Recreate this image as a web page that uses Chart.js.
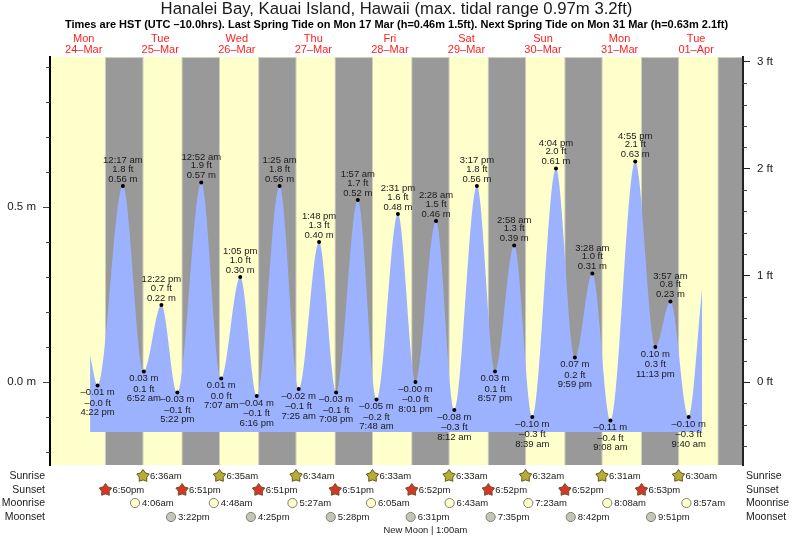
<!DOCTYPE html>
<html>
<head>
<meta charset="utf-8">
<title>Hanalei Bay tide chart</title>
<script src="https://cdn.jsdelivr.net/npm/chart.js@4/dist/chart.umd.min.js"></script>
<style>
  html, body { margin: 0; padding: 0; background: #fff; }
  canvas { display: block; }
</style>
</head>
<body>
<canvas id="tideChart" width="793" height="539"></canvas>
<script>
// DATA

const titleText = 'Hanalei Bay, Kauai Island, Hawaii (max. tidal range 0.97m 3.2ft)';
const subtitleText = 'Times are HST (UTC –10.0hrs). Last Spring Tide on Mon 17 Mar (h=0.46m 1.5ft). Next Spring Tide on Mon 31 Mar (h=0.63m 2.1ft)';

const dayNames = ['Mon','Tue','Wed','Thu','Fri','Sat','Sun','Mon','Tue'];
const dayDates = ['24–Mar','25–Mar','26–Mar','27–Mar','28–Mar','29–Mar','30–Mar','31–Mar','01–Apr'];
const dayNoons = ['24 12:00pm','25 12:00pm','26 12:00pm','27 12:00pm','28 12:00pm','29 12:00pm','30 12:00pm','31 12:00pm','32 12:00pm'];

// high and low waters, in time order (days run on past 31 so 32 = 01-Apr)
const tideTimes = [
  '24 4:22pm','25 12:17am','25 6:52am','25 12:22pm','25 5:22pm',
  '26 12:52am','26 7:07am','26 1:05pm','26 6:16pm',
  '27 1:25am','27 7:25am','27 1:48pm','27 7:08pm',
  '28 1:57am','28 7:48am','28 2:31pm','28 8:01pm',
  '29 2:28am','29 8:12am','29 3:17pm','29 8:57pm',
  '30 2:58am','30 8:39am','30 4:04pm','30 9:59pm',
  '31 3:28am','31 9:08am','31 4:55pm','31 11:13pm',
  '32 3:57am','32 9:40am'
];
const tideMetres = [
  -0.01,0.56,0.03,0.22,-0.03,
  0.57,0.01,0.30,-0.04,
  0.56,-0.02,0.40,-0.03,
  0.52,-0.05,0.48,-0.00,
  0.46,-0.08,0.56,0.03,
  0.39,-0.10,0.61,0.07,
  0.31,-0.11,0.63,0.10,
  0.23,-0.10
];
const tideFeet = [
  -0.0,1.8,0.1,0.7,-0.1,
  1.9,0.0,1.0,-0.1,
  1.8,-0.1,1.3,-0.1,
  1.7,-0.2,1.6,-0.0,
  1.5,-0.3,1.8,0.1,
  1.3,-0.3,2.0,0.2,
  1.0,-0.4,2.1,0.3,
  0.8,-0.3
];

// where the drawn curve starts and stops
const curveStart = { time: '24 2:00pm', metres: 0.075 };
const curveEnd = { time: '32 1:55pm', metres: 0.27 };
const curveFloor = -0.143;

const sunriseTimes = ['25 6:36am','26 6:35am','27 6:34am','28 6:33am','29 6:33am','30 6:32am','31 6:31am','32 6:30am'];
const sunsetTimes = ['24 6:50pm','25 6:51pm','26 6:51pm','27 6:51pm','28 6:52pm','29 6:52pm','30 6:52pm','31 6:53pm'];
const lastSunset = '32 6:53pm';
const moonriseTimes = ['25 4:06am','26 4:48am','27 5:27am','28 6:05am','29 6:43am','30 7:23am','31 8:08am','32 8:57am'];
const moonsetTimes = ['25 3:22pm','26 4:25pm','27 5:28pm','28 6:31pm','29 7:35pm','30 8:42pm','31 9:51pm'];
const newMoonTime = '29 1:00am';

const metreTicks = [0, 0.5];
const metreMinorTicks = [-0.2,-0.1,0.1,0.2,0.3,0.4,0.6,0.7,0.8,0.9];
const footTicks = [0, 1, 2, 3];
const footMinorTicks = [-0.6,-0.4,-0.2,0.2,0.4,0.6,0.8,1.2,1.4,1.6,1.8,2.2,2.4,2.6,2.8];

// HELPERS

function hoursOf(stamp) {
  const m = stamp.match(/^(\d+) (\d+):(\d+)(am|pm)$/);
  const hour = (Number(m[2]) % 12) + (m[4] === 'pm' ? 12 : 0);
  return (Number(m[1]) - 24) * 24 + hour + Number(m[3]) / 60;
}

function clockOf(stamp) {
  return stamp.split(' ')[1];
}

function signed(value, digits) {
  const negative = value < 0 || Object.is(value, -0);
  return (negative ? '–' : '') + Math.abs(value).toFixed(digits);
}

const fontFamily = '"Liberation Sans", Arial, sans-serif';
const yellow = '#ffffcc';
const grey = '#999999';

// PLUGINS

const bandsPlugin = {
  id: 'bands',
  beforeDraw(chart) {
    const { ctx, chartArea, scales } = chart;
    const top = chartArea.top;
    const height = chartArea.bottom - chartArea.top;
    ctx.save();
    ctx.fillStyle = yellow;
    ctx.fillRect(chartArea.left, top, chartArea.right - chartArea.left, height);
    const sunsets = sunsetTimes.concat([lastSunset]);
    sunsets.forEach((stamp, i) => {
      const from = scales.x.getPixelForValue(hoursOf(stamp));
      const to = i < sunriseTimes.length ? scales.x.getPixelForValue(hoursOf(sunriseTimes[i])) : chartArea.right;
      // pale fringe round each night band, as in the original
      ctx.fillStyle = '#cfcfbd';
      ctx.fillRect(from - 0.5, top, to - from + 1, height);
      ctx.fillStyle = grey;
      ctx.fillRect(from + 0.5, top + 1, to - from - 1, height - 1);
    });
    ctx.restore();
  }
};

const tideLabelsPlugin = {
  id: 'tideLabels',
  afterDatasetsDraw(chart) {
    const { ctx, scales } = chart;
    ctx.save();
    ctx.font = '9.5px ' + fontFamily;
    ctx.fillStyle = '#1a1a1a';
    ctx.textAlign = 'center';
    ctx.textBaseline = 'middle';
    tideTimes.forEach((stamp, i) => {
      const x = scales.x.getPixelForValue(hoursOf(stamp));
      const y = scales.y.getPixelForValue(tideMetres[i]);
      const clock = clockOf(stamp).replace(/(am|pm)$/, ' $1');
      const metres = signed(tideMetres[i], 2) + ' m';
      const feet = signed(tideFeet[i], 1) + ' ft';
      if (i % 2 === 1) {
        ctx.fillText(metres, x, y - 7);
        ctx.fillText(feet, x, y - 17);
        ctx.fillText(clock, x, y - 25.5);
      } else {
        ctx.fillText(metres, x, y + 7);
        ctx.fillText(feet, x, y + 17.5);
        ctx.fillText(clock, x, y + 27);
      }
    });
    ctx.restore();
  }
};

function drawStar(ctx, x, y, fill) {
  ctx.beginPath();
  for (let i = 0; i < 10; i++) {
    const r = i % 2 === 0 ? 6.5 : 3.9;
    const a = -Math.PI / 2 + i * Math.PI / 5;
    const px = x + r * Math.cos(a);
    const py = y + r * Math.sin(a);
    if (i === 0) ctx.moveTo(px, py);
    else ctx.lineTo(px, py);
  }
  ctx.closePath();
  ctx.fillStyle = fill;
  ctx.fill();
  ctx.lineWidth = 1;
  ctx.strokeStyle = '#665522';
  ctx.stroke();
}

function drawMoon(ctx, x, y, fill) {
  ctx.beginPath();
  ctx.arc(x, y, 4.6, 0, Math.PI * 2);
  ctx.fillStyle = fill;
  ctx.fill();
  ctx.lineWidth = 1;
  ctx.strokeStyle = '#808075';
  ctx.stroke();
}

const rows = [
  { name: 'Sunrise', y: 476, times: sunriseTimes, draw: drawStar, fill: '#b5ad35' },
  { name: 'Sunset', y: 490, times: sunsetTimes, draw: drawStar, fill: '#d8352a' },
  { name: 'Moonrise', y: 503, times: moonriseTimes, draw: drawMoon, fill: '#ffffcc' },
  { name: 'Moonset', y: 517, times: moonsetTimes, draw: drawMoon, fill: '#c4c4b8' }
];

const almanacPlugin = {
  id: 'almanac',
  afterDraw(chart) {
    const { ctx, scales } = chart;
    ctx.save();
    ctx.textBaseline = 'middle';
    rows.forEach(row => {
      ctx.font = '10.5px ' + fontFamily;
      ctx.fillStyle = '#1a1a1a';
      ctx.textAlign = 'right';
      ctx.fillText(row.name, 45, row.y);
      ctx.textAlign = 'left';
      ctx.fillText(row.name, 746, row.y);
      ctx.font = '9.5px ' + fontFamily;
      row.times.forEach(stamp => {
        const x = scales.x.getPixelForValue(hoursOf(stamp));
        row.draw(ctx, x, row.y, row.fill);
        ctx.fillStyle = '#1a1a1a';
        ctx.fillText(clockOf(stamp), x + 7, row.y);
      });
    });
    ctx.font = '9.4px ' + fontFamily;
    ctx.textAlign = 'center';
    ctx.fillStyle = '#1a1a1a';
    ctx.fillText('New Moon | ' + clockOf(newMoonTime), scales.x.getPixelForValue(hoursOf(newMoonTime)) - 6, 530);
    ctx.restore();
  }
};

const minorTicksPlugin = {
  id: 'minorTicks',
  afterDraw(chart) {
    const { ctx, chartArea, scales } = chart;
    ctx.save();
    ctx.strokeStyle = '#444';
    ctx.lineWidth = 1;
    ctx.beginPath();
    metreMinorTicks.forEach(v => {
      const y = Math.round(scales.y.getPixelForValue(v)) + 0.5;
      ctx.moveTo(chartArea.left - 4, y);
      ctx.lineTo(chartArea.left, y);
    });
    footMinorTicks.forEach(v => {
      const y = Math.round(scales.y1.getPixelForValue(v)) + 0.5;
      ctx.moveTo(chartArea.right, y);
      ctx.lineTo(chartArea.right + 4, y);
    });
    ctx.stroke();
    ctx.restore();
  }
};

// CHART

const curvePoints = [{ x: hoursOf(curveStart.time), y: curveStart.metres }]
  .concat(tideTimes.map((stamp, i) => ({ x: hoursOf(stamp), y: tideMetres[i] })))
  .concat([{ x: hoursOf(curveEnd.time), y: curveEnd.metres }]);

const dotPoints = tideTimes.map((stamp, i) => ({ x: hoursOf(stamp), y: tideMetres[i] }));

const noonHours = dayNoons.map(hoursOf);

new Chart(document.getElementById('tideChart'), {
  type: 'line',
  data: {
    datasets: [
      {
        label: 'Extremes',
        data: dotPoints,
        showLine: false,
        pointRadius: 2,
        pointBackgroundColor: '#000',
        pointBorderWidth: 0
      },
      {
        label: 'Tide',
        data: curvePoints,
        borderWidth: 0,
        pointRadius: 0,
        cubicInterpolationMode: 'monotone',
        backgroundColor: '#9db2ff',
        fill: { value: curveFloor }
      }
    ]
  },
  options: {
    responsive: false,
    animation: false,
    events: [],
    layout: { padding: { bottom: 74 } },
    plugins: {
      legend: { display: false },
      tooltip: { enabled: false },
      title: {
        display: true,
        text: titleText,
        color: '#1a1a1a',
        font: { family: fontFamily, size: 16.7, weight: 'normal', lineHeight: 1.08 },
        padding: 0
      },
      subtitle: {
        display: true,
        text: subtitleText,
        color: '#000',
        font: { family: fontFamily, size: 11, weight: 'bold', lineHeight: 1.18 },
        padding: 0
      }
    },
    scales: {
      x: {
        type: 'linear',
        position: 'top',
        min: 1.44,
        max: 218.7,
        border: { display: false },
        grid: { display: false },
        ticks: {
          color: '#ff2020',
          autoSkip: false,
          maxRotation: 0,
          padding: -6,
          font: { family: fontFamily, size: 11, lineHeight: 1 },
          callback: v => {
            const i = noonHours.indexOf(v);
            return i < 0 ? '' : [dayNames[i], dayDates[i]];
          }
        },
        afterBuildTicks: axis => { axis.ticks = noonHours.map(v => ({ value: v })); },
        afterFit: axis => { axis.height = 26; }
      },
      y: {
        position: 'left',
        min: -0.237,
        max: 0.9286,
        border: { display: true, color: '#000', width: 2 },
        grid: { drawOnChartArea: false, drawTicks: true, tickLength: 7, tickColor: '#444' },
        ticks: {
          color: '#1a1a1a',
          padding: 7,
          font: { family: fontFamily, size: 11.5 },
          callback: v => v.toFixed(1) + ' m'
        },
        afterBuildTicks: axis => { axis.ticks = metreTicks.map(v => ({ value: v })); },
        afterFit: axis => { axis.width = 50; }
      },
      y1: {
        position: 'right',
        min: -0.7776,
        max: 3.0466,
        border: { display: true, color: '#222', width: 2 },
        grid: { drawOnChartArea: false, drawTicks: true, tickLength: 7, tickColor: '#222' },
        ticks: {
          color: '#1a1a1a',
          padding: 7,
          font: { family: fontFamily, size: 11.5 },
          callback: v => v + ' ft'
        },
        afterBuildTicks: axis => { axis.ticks = footTicks.map(v => ({ value: v })); },
        afterFit: axis => { axis.width = 50; }
      }
    }
  },
  plugins: [bandsPlugin, tideLabelsPlugin, almanacPlugin, minorTicksPlugin]
});
</script>
</body>
</html>
